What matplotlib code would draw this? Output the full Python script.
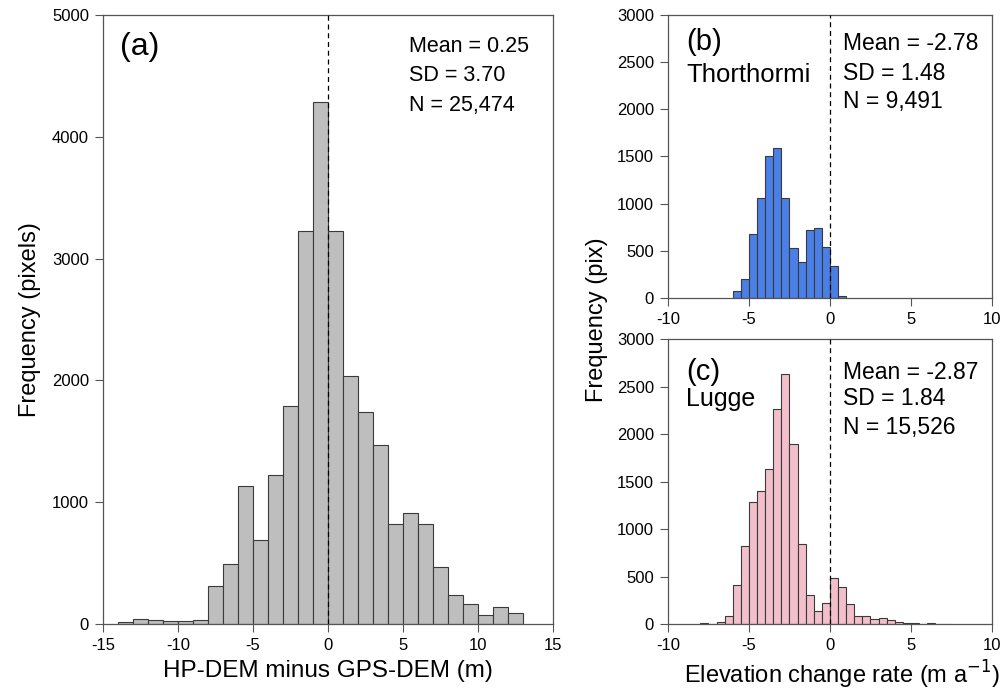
import numpy as np
import matplotlib
matplotlib.use("Agg")
import matplotlib.pyplot as plt

plt.rcParams["font.family"] = ["Liberation Sans", "DejaVu Sans"]
plt.rcParams["axes.unicode_minus"] = False

# (a) HP-DEM minus GPS-DEM, 1 m bins from -14 to 13
a_edges = np.arange(-14, 13)
a_counts = [15, 44, 32, 23, 26, 35, 314, 496, 1135, 689, 1226, 1786, 3226, 4284,
            3226, 2035, 1739, 1469, 824, 909, 824, 469, 238, 167, 73, 138, 91]

# (b) Thorthormi, 0.5 m/a bins from -6 to 1
b_edges = np.arange(-6, 1, 0.5)
b_counts = [70, 201, 673, 1060, 1504, 1588, 1060, 535, 377, 725, 746, 542, 338, 25]

# (c) Lugge, 0.5 m/a bins from -8 to 7.5
c_edges = np.arange(-8, 7.5, 0.5)
c_counts = [7, 5, 18, 85, 415, 817, 1282, 1398, 1630, 2261, 2634, 1894, 838, 302, 133, 221,
            484, 389, 210, 81, 84, 56, 60, 39, 21, 11, 7, 4, 7, 5, 4]

a_stats = ["Mean = 0.25", "SD = 3.70", "N = 25,474"]
b_stats = ["Mean = -2.78", "SD = 1.48", "N = 9,491"]
c_stats = ["Mean = -2.87", "SD = 1.84", "N = 15,526"]

fig = plt.figure(figsize=(10.04, 6.98), dpi=100)
ax_a = fig.add_axes([0.1026, 0.1060, 0.4482, 0.8725])
ax_b = fig.add_axes([0.6653, 0.5731, 0.3227, 0.4054])
ax_c = fig.add_axes([0.6653, 0.1060, 0.3227, 0.4083])

edge = "#3a3a3a"
spine_col = "#555555"


def style_axis(ax, xlim, ylim, xticks, yticks):
    ax.set_xlim(*xlim)
    ax.set_ylim(*ylim)
    ax.set_xticks(xticks)
    ax.set_yticks(yticks)
    ax.tick_params(direction="out", length=6, width=0.8, color=spine_col,
                   labelsize=12, pad=4)
    for s in ax.spines.values():
        s.set_color(spine_col)
        s.set_linewidth(0.9)
    ax.axvline(0, color="black", linestyle=(0, (4, 3)), linewidth=0.9, zorder=3)


def add_stats(ax, x, ys, lines, size):
    for y, txt in zip(ys, lines):
        ax.text(x, y, txt, transform=ax.transAxes, fontsize=size, va="center", ha="left")


# panel (a)
ax_a.bar(a_edges, a_counts, width=1.0, align="edge", color="#bebebe",
         edgecolor=edge, linewidth=0.8, zorder=2)
style_axis(ax_a, (-15, 15), (0, 5000), range(-15, 16, 5), range(0, 5001, 1000))
ax_a.set_ylabel("Frequency (pixels)", fontsize=17, labelpad=8)
ax_a.set_xlabel("HP-DEM minus GPS-DEM (m)", fontsize=17.5, labelpad=5)
ax_a.text(0.038, 0.947, "(a)", transform=ax_a.transAxes, fontsize=23, va="center", ha="left")
add_stats(ax_a, 0.68, [0.949, 0.900, 0.852], a_stats, 15.5)

# panel (b)
ax_b.bar(b_edges, b_counts, width=0.5, align="edge", color="#4a7fe6",
         edgecolor=edge, linewidth=0.8, zorder=2)
style_axis(ax_b, (-10, 10), (0, 3000), range(-10, 11, 5), range(0, 3001, 500))
ax_b.text(0.056, 0.905, "(b)", transform=ax_b.transAxes, fontsize=21, va="center", ha="left")
ax_b.text(0.056, 0.788, "Thorthormi", transform=ax_b.transAxes, fontsize=18.5, va="center", ha="left")
add_stats(ax_b, 0.54, [0.898, 0.795, 0.696], b_stats, 16.5)

# panel (c)
ax_c.bar(c_edges, c_counts, width=0.5, align="edge", color="#f2bfcb",
         edgecolor=edge, linewidth=0.8, zorder=2)
style_axis(ax_c, (-10, 10), (0, 3000), range(-10, 11, 5), range(0, 3001, 500))
ax_c.text(0.056, 0.885, "(c)", transform=ax_c.transAxes, fontsize=21, va="center", ha="left")
ax_c.text(0.056, 0.79, "Lugge", transform=ax_c.transAxes, fontsize=18, va="center", ha="left")
add_stats(ax_c, 0.54, [0.884, 0.79, 0.69], c_stats, 16.5)
ax_c.text(0.537, -0.179, "Elevation change rate (m a$^{-1}$)", transform=ax_c.transAxes,
          fontsize=17, ha="center", va="center")

fig.text(0.5946, 0.5415, "Frequency (pix)", rotation=90, fontsize=17, ha="center", va="center")

fig.savefig("out.png", dpi=100)
